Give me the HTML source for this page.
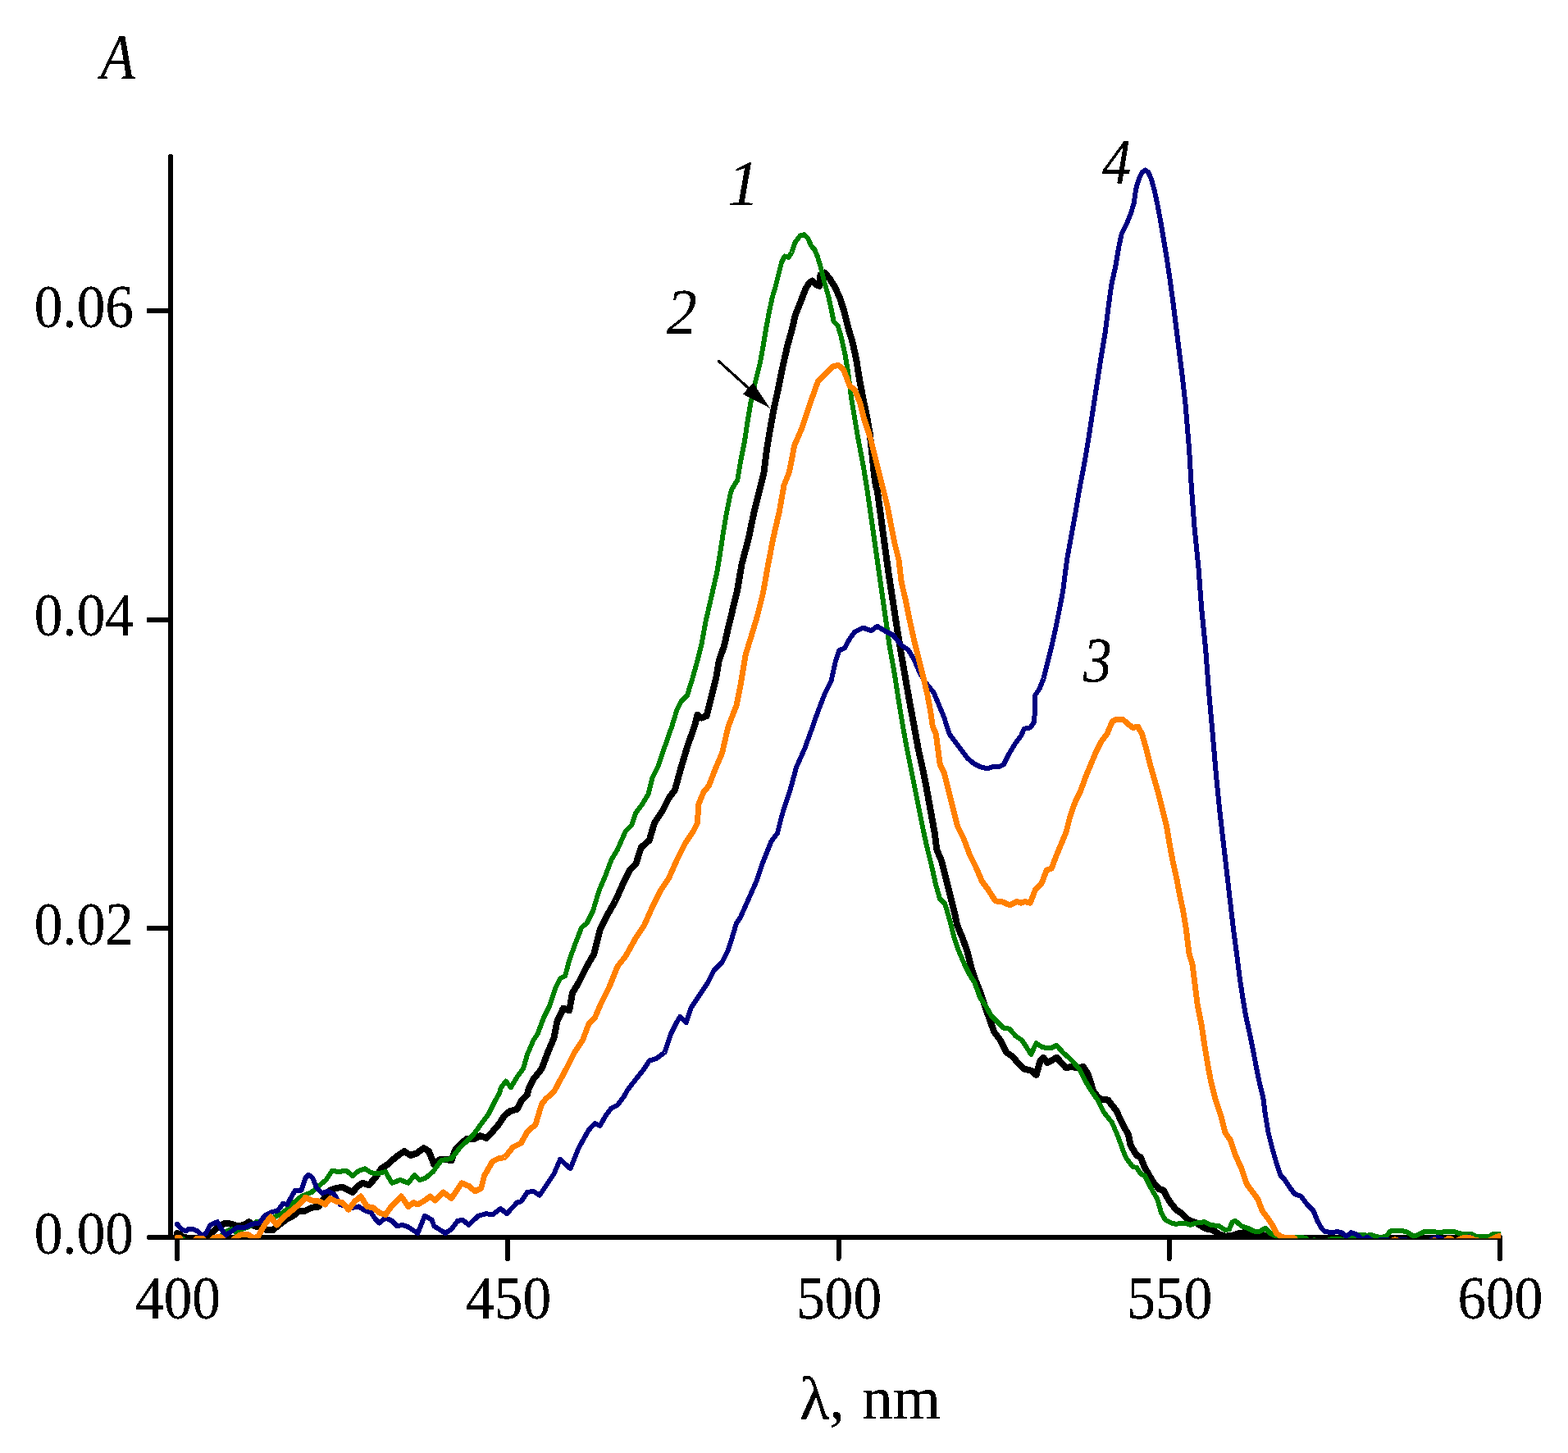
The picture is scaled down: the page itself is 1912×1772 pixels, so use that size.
<!DOCTYPE html>
<html lang="en">
<head>
<meta charset="utf-8">
<title>Absorption spectra</title>
<style>
html,body{margin:0;padding:0;background:#fff;}
body{width:1912px;height:1772px;overflow:hidden;}
svg{display:block;}
text{font-family:"Liberation Serif","DejaVu Serif",serif;font-size:73px;fill:#000;}
.it{font-style:italic;font-size:79px;}
.ax{font-size:75px;}
</style>
</head>
<body>
<svg width="1912" height="1772" viewBox="0 0 1912 1772">
<rect x="0" y="0" width="1912" height="1772" fill="#ffffff"/>
<defs><filter id="bw" x="-10%" y="-10%" width="120%" height="120%" color-interpolation-filters="sRGB"><feComponentTransfer><feFuncA type="discrete" tableValues="0 1 1"/></feComponentTransfer></filter><clipPath id="plot"><rect x="209" y="150" width="1621.2" height="1360.2"/></clipPath></defs>

<g stroke="#000" stroke-width="6" stroke-linecap="round" fill="none" shape-rendering="crispEdges">
<line x1="208" y1="191" x2="208" y2="1509"/>
<line x1="182" y1="1509" x2="1829" y2="1509"/>
<line x1="179" y1="1132.3" x2="208" y2="1132.3" stroke-linecap="butt"/>
<line x1="179" y1="755.6" x2="208" y2="755.6" stroke-linecap="butt"/>
<line x1="179" y1="379.0" x2="208" y2="379.0" stroke-linecap="butt"/>
<line x1="216.0" y1="1509" x2="216.0" y2="1535"/>
<line x1="619.2" y1="1509" x2="619.2" y2="1535"/>
<line x1="1022.5" y1="1509" x2="1022.5" y2="1535"/>
<line x1="1425.8" y1="1509" x2="1425.8" y2="1535"/>
<line x1="1829.0" y1="1509" x2="1829.0" y2="1535"/>
</g>
<g fill="none" stroke-linejoin="round" stroke-linecap="round" clip-path="url(#plot)" shape-rendering="crispEdges">
<path stroke="#000000" stroke-width="8.0" d="M216.00,1504.2 L219.00,1505.0 L223.00,1508.5 L230.00,1510.0 L240.00,1510.0 L250.00,1508.5 L260.00,1502.0 L267.50,1495.2 L275.00,1491.5 L282.50,1492.8 L290.00,1495.2 L297.50,1494.0 L303.75,1490.2 L310.00,1495.2 L317.50,1496.5 L325.00,1500.2 L332.50,1500.2 L340.00,1494.0 L350.00,1486.5 L357.50,1482.8 L365.00,1476.5 L372.50,1476.5 L380.00,1472.8 L388.75,1471.5 L395.00,1461.5 L402.50,1451.5 L410.00,1449.0 L417.50,1447.8 L425.00,1451.5 L430.00,1454.0 L436.25,1446.5 L442.50,1442.8 L450.00,1445.2 L457.50,1436.5 L465.00,1425.2 L472.50,1420.2 L478.00,1415.2 L485.50,1409.0 L493.00,1404.0 L500.50,1409.0 L508.00,1406.5 L516.75,1400.2 L523.00,1404.0 L529.25,1420.2 L536.75,1414.0 L544.25,1414.0 L550.50,1415.2 L555.50,1401.5 L563.00,1394.0 L569.25,1389.0 L578.00,1389.0 L585.50,1385.2 L593.00,1387.8 L600.50,1380.2 L608.00,1371.5 L615.50,1360.2 L621.75,1355.2 L630.50,1352.8 L635.50,1342.8 L643.00,1335.2 L644.25,1329.0 L650.50,1316.0 L660.50,1303.5 L668.00,1283.5 L675.50,1266.0 L679.25,1246.0 L686.75,1229.8 L694.25,1232.2 L698.00,1211.0 L705.50,1198.5 L715.50,1178.5 L724.25,1163.5 L728.00,1148.5 L731.75,1133.5 L740.50,1116.0 L750.50,1098.5 L760.50,1076.0 L768.00,1061.0 L775.50,1053.5 L781.75,1033.5 L791.75,1024.8 L798.00,1003.5 L808.00,988.5 L815.50,973.5 L823.00,963.5 L830.50,936.0 L838.00,911.0 L846.75,886.0 L850.50,871.8 L855.50,875.5 L861.75,873.0 L868.00,848.0 L873.00,828.0 L876.75,805.5 L883.00,788.0 L888.00,765.5 L893.50,743.0 L899.00,720.5 L904.50,688.0 L912.50,658.0 L918.75,628.0 L925.00,603.0 L931.25,578.0 L935.00,548.0 L938.75,525.5 L943.75,498.0 L948.75,475.5 L953.75,450.5 L960.00,422.5 L966.25,400.0 L969.50,385.0 L976.50,367.5 L982.25,352.5 L986.75,345.0 L990.50,342.5 L995.50,347.5 L999.25,348.8 L1000.50,335.0 L1005.50,332.5 L1011.75,340.0 L1018.00,350.0 L1023.75,362.5 L1029.50,380.0 L1034.25,400.0 L1039.00,415.0 L1044.00,437.5 L1048.00,462.5 L1052.25,485.0 L1056.50,505.0 L1060.50,527.5 L1063.00,550.0 L1065.50,575.0 L1068.00,593.0 L1069.75,598.0 L1074.50,633.0 L1079.25,668.0 L1083.75,700.5 L1088.75,733.0 L1093.75,765.5 L1099.00,798.0 L1104.25,828.0 L1109.50,858.0 L1114.75,886.0 L1119.75,913.5 L1124.75,936.0 L1129.75,961.0 L1134.75,988.5 L1139.75,1016.0 L1142.25,1036.0 L1148.50,1051.0 L1153.50,1071.0 L1158.50,1091.0 L1163.50,1111.0 L1167.25,1128.5 L1173.50,1143.5 L1179.75,1161.0 L1184.75,1181.0 L1189.75,1196.0 L1194.75,1208.5 L1199.75,1223.5 L1206.00,1241.0 L1212.25,1258.5 L1219.75,1268.5 L1227.25,1283.5 L1234.75,1288.5 L1241.00,1296.0 L1248.50,1303.5 L1258.50,1306.0 L1263.50,1311.0 L1268.50,1293.5 L1272.25,1289.8 L1277.25,1296.0 L1288.50,1289.8 L1299.75,1302.2 L1306.00,1301.0 L1313.50,1302.2 L1321.00,1301.0 L1326.00,1308.5 L1331.00,1323.5 L1333.50,1331.5 L1341.00,1340.2 L1351.00,1341.5 L1361.00,1354.0 L1368.50,1370.2 L1376.00,1384.0 L1378.50,1396.5 L1386.00,1409.0 L1391.00,1411.5 L1396.00,1424.0 L1406.00,1441.5 L1413.50,1450.2 L1418.50,1451.5 L1426.00,1465.2 L1434.00,1475.2 L1441.50,1480.2 L1449.00,1487.8 L1459.00,1491.5 L1469.00,1497.8 L1479.00,1500.2 L1486.50,1505.2 L1494.00,1507.8 L1504.00,1506.5 L1511.50,1504.0 L1521.50,1502.8 L1534.00,1504.0 L1541.50,1506.5 L1551.50,1508.5 L1571.50,1510.0 L1609.00,1510.0 L1659.00,1510.5 L1709.00,1510.0 L1759.00,1510.5 L1829.00,1510.0"/>
<path stroke="#008000" stroke-width="6.0" d="M216.00,1515.0 L221.25,1512.0 L223.00,1510.8 L225.00,1513.0 L237.50,1514.0 L246.25,1513.0 L255.00,1514.0 L265.00,1512.0 L275.00,1502.0 L282.50,1499.0 L287.50,1502.8 L295.00,1499.0 L302.50,1496.5 L312.50,1490.2 L322.50,1489.0 L332.50,1485.2 L345.00,1479.0 L360.00,1465.2 L367.50,1459.0 L380.00,1454.0 L390.00,1445.2 L397.50,1439.0 L405.00,1427.8 L412.50,1429.0 L422.50,1427.8 L430.00,1434.0 L437.50,1427.8 L445.00,1425.2 L452.50,1430.2 L460.00,1431.5 L470.00,1429.0 L478.00,1442.8 L488.00,1439.0 L498.00,1442.8 L505.50,1432.8 L511.75,1439.0 L519.25,1436.5 L528.00,1429.0 L538.00,1415.2 L550.50,1412.8 L560.50,1400.2 L568.00,1392.8 L578.00,1382.8 L588.00,1369.0 L595.50,1359.0 L603.00,1344.0 L609.25,1332.8 L610.50,1327.2 L616.75,1318.5 L623.00,1326.0 L630.50,1313.5 L638.00,1303.5 L643.00,1286.0 L650.50,1268.5 L655.50,1261.0 L663.00,1241.0 L670.50,1226.0 L678.00,1203.5 L683.00,1193.5 L689.25,1189.8 L694.25,1171.0 L700.50,1153.5 L709.25,1131.0 L715.50,1126.0 L723.00,1111.0 L730.50,1086.0 L738.00,1068.5 L745.50,1048.5 L753.00,1036.0 L763.00,1013.5 L770.50,1006.0 L775.50,991.0 L783.00,981.0 L790.50,968.5 L795.50,948.5 L803.00,933.5 L810.50,911.0 L819.25,886.0 L825.50,865.5 L830.50,855.5 L838.00,848.0 L844.25,828.0 L850.50,805.5 L855.50,785.5 L860.50,758.0 L868.00,725.5 L874.25,698.0 L878.00,675.5 L881.75,650.5 L885.50,628.0 L890.50,603.0 L893.00,595.5 L899.25,585.5 L903.00,563.0 L908.00,538.0 L911.75,513.0 L915.50,490.5 L920.50,468.0 L926.75,443.0 L930.50,422.5 L934.25,400.0 L938.00,380.0 L941.75,362.5 L945.50,350.0 L949.25,335.0 L953.00,320.0 L956.75,312.5 L961.75,313.8 L965.50,307.5 L969.25,296.2 L975.50,287.5 L980.50,286.2 L985.50,291.2 L989.25,300.0 L993.00,303.8 L996.75,312.5 L1000.50,325.0 L1005.50,345.0 L1010.50,362.5 L1014.25,380.0 L1016.75,392.5 L1021.75,397.5 L1025.50,410.0 L1030.50,432.5 L1034.25,455.0 L1038.00,485.0 L1041.75,507.5 L1045.50,530.0 L1049.25,550.0 L1053.00,570.0 L1056.75,593.0 L1059.75,613.0 L1064.75,648.0 L1069.75,683.0 L1074.75,718.0 L1079.75,753.0 L1084.75,788.0 L1091.00,823.0 L1096.00,855.5 L1101.00,886.0 L1106.00,913.5 L1111.00,938.5 L1116.00,963.5 L1121.00,988.5 L1126.00,1013.5 L1131.00,1036.0 L1136.00,1056.0 L1141.00,1078.5 L1146.00,1096.0 L1152.25,1102.2 L1158.50,1123.5 L1163.50,1143.5 L1168.50,1158.5 L1176.00,1176.0 L1182.25,1188.5 L1188.50,1198.5 L1194.75,1216.0 L1202.25,1227.2 L1208.50,1238.5 L1216.00,1246.0 L1223.50,1253.5 L1231.00,1254.8 L1238.50,1263.5 L1246.00,1268.5 L1251.00,1276.0 L1257.25,1286.0 L1263.50,1272.2 L1271.00,1277.2 L1281.00,1278.5 L1288.50,1274.8 L1296.00,1283.5 L1306.00,1292.2 L1316.00,1303.5 L1323.50,1318.5 L1329.75,1329.0 L1338.50,1341.5 L1346.00,1356.5 L1356.00,1369.0 L1363.50,1386.5 L1369.75,1404.0 L1373.50,1412.8 L1381.00,1422.8 L1386.00,1424.0 L1391.00,1431.5 L1396.00,1434.0 L1403.50,1449.0 L1411.00,1461.5 L1416.00,1479.0 L1421.00,1487.8 L1428.50,1491.5 L1434.00,1492.8 L1444.00,1491.5 L1451.50,1494.0 L1459.00,1491.5 L1469.00,1490.2 L1476.50,1494.0 L1486.50,1495.2 L1494.00,1500.2 L1499.00,1499.0 L1502.75,1490.2 L1506.50,1489.0 L1514.00,1495.2 L1521.50,1497.8 L1529.00,1501.5 L1536.50,1501.5 L1542.75,1497.8 L1549.00,1504.0 L1556.50,1507.8 L1563.00,1511.3 L1575.00,1512.3 L1580.00,1509.3 L1586.00,1508.9 L1592.00,1509.8 L1596.00,1513.3 L1600.00,1512.8 L1603.00,1512.3 L1606.00,1513.3 L1615.00,1513.8 L1623.00,1511.3 L1630.00,1510.6 L1637.00,1511.8 L1642.00,1512.3 L1648.00,1510.3 L1652.00,1508.3 L1655.90,1505.8 L1662.50,1505.8 L1666.30,1506.8 L1672.00,1505.8 L1676.70,1507.8 L1681.40,1508.6 L1687.00,1508.6 L1690.80,1506.8 L1695.50,1501.4 L1700.20,1500.5 L1708.60,1500.9 L1715.00,1502.3 L1719.00,1504.5 L1723.60,1507.8 L1728.30,1506.1 L1737.70,1501.8 L1747.10,1502.3 L1756.60,1502.8 L1766.00,1501.8 L1773.50,1502.3 L1780.10,1504.2 L1784.80,1505.1 L1794.30,1505.1 L1799.00,1507.5 L1806.50,1508.0 L1815.90,1508.0 L1820.60,1505.1 L1830.00,1504.8"/>
<path stroke="#000080" stroke-width="6.0" d="M216.00,1493.0 L221.25,1499.0 L226.25,1501.5 L230.00,1499.0 L235.00,1499.0 L241.25,1501.5 L246.25,1506.5 L251.25,1504.0 L256.25,1494.0 L265.00,1490.2 L270.00,1499.0 L275.00,1506.5 L282.50,1501.5 L290.00,1496.5 L300.00,1496.5 L307.50,1492.8 L316.25,1491.5 L322.50,1482.8 L332.50,1477.8 L338.75,1476.5 L345.00,1467.8 L350.00,1469.0 L360.00,1451.5 L367.50,1451.5 L372.50,1436.5 L376.25,1432.8 L381.25,1436.5 L386.25,1449.0 L392.50,1455.2 L400.00,1452.8 L407.50,1456.5 L415.00,1469.0 L422.50,1471.5 L430.00,1472.8 L437.50,1471.5 L445.00,1476.5 L452.50,1479.0 L457.50,1486.5 L462.50,1491.5 L470.00,1485.2 L478.00,1489.0 L484.25,1495.2 L490.50,1494.0 L498.00,1496.5 L509.25,1504.0 L518.00,1482.8 L526.75,1487.8 L529.25,1495.2 L543.00,1504.0 L550.50,1499.0 L558.00,1489.0 L564.25,1487.8 L571.75,1494.0 L583.00,1482.8 L593.00,1480.2 L600.50,1481.5 L610.50,1474.0 L618.00,1480.2 L630.50,1466.5 L635.50,1465.2 L643.00,1454.0 L650.50,1452.8 L658.00,1457.8 L665.50,1446.5 L675.50,1431.5 L683.00,1414.0 L695.50,1425.2 L705.50,1400.2 L718.00,1377.8 L725.50,1370.2 L731.75,1372.8 L738.00,1361.5 L745.50,1351.5 L753.00,1347.8 L760.50,1337.8 L765.50,1329.0 L775.50,1316.0 L785.50,1303.5 L791.75,1293.5 L800.50,1291.0 L810.50,1283.5 L818.00,1261.0 L824.25,1248.5 L829.25,1239.8 L836.75,1247.2 L843.00,1228.5 L853.00,1213.5 L863.00,1198.5 L870.50,1183.5 L880.50,1173.5 L888.00,1158.5 L894.25,1138.5 L898.00,1126.0 L903.00,1118.5 L913.00,1096.0 L923.00,1073.5 L930.50,1051.0 L940.50,1026.0 L948.00,1016.0 L953.00,996.0 L956.00,986.0 L963.50,963.5 L971.00,936.0 L981.00,913.5 L991.00,886.0 L997.25,868.0 L1006.00,845.5 L1013.50,830.5 L1018.50,808.0 L1023.50,793.0 L1029.75,790.5 L1036.00,779.2 L1042.25,770.5 L1052.25,765.5 L1062.25,769.2 L1069.75,763.8 L1078.50,769.2 L1088.50,774.2 L1096.00,783.0 L1100.00,787.5 L1107.50,792.5 L1115.00,805.0 L1121.25,820.0 L1128.75,832.5 L1138.75,845.0 L1145.00,860.0 L1151.25,875.0 L1157.50,895.0 L1165.00,905.0 L1172.50,915.0 L1180.00,925.0 L1187.50,931.2 L1195.00,935.0 L1203.75,937.5 L1211.25,935.0 L1217.50,935.5 L1223.75,932.5 L1230.00,920.0 L1237.50,907.5 L1245.00,897.5 L1248.75,888.8 L1256.25,887.5 L1261.25,880.0 L1262.50,847.5 L1267.50,840.0 L1272.50,827.5 L1277.50,807.5 L1282.50,787.5 L1287.50,765.0 L1292.50,740.0 L1296.25,720.0 L1301.00,683.0 L1306.00,655.5 L1311.00,628.0 L1316.00,598.0 L1322.75,562.5 L1327.75,532.5 L1332.75,500.0 L1337.75,467.5 L1342.75,435.0 L1347.75,405.0 L1351.50,375.0 L1355.25,347.5 L1360.25,325.0 L1364.00,302.5 L1367.75,285.0 L1374.00,272.5 L1379.00,260.0 L1382.75,247.5 L1385.25,230.0 L1389.00,217.5 L1392.75,210.0 L1396.50,207.5 L1400.25,210.0 L1404.00,218.8 L1407.75,232.5 L1411.50,250.0 L1415.25,270.0 L1419.00,292.5 L1422.75,315.0 L1426.50,340.0 L1430.25,367.5 L1434.00,397.5 L1437.75,427.5 L1441.50,457.5 L1445.25,490.0 L1447.75,520.0 L1450.25,550.0 L1452.75,593.0 L1456.50,643.0 L1461.50,693.0 L1465.25,743.0 L1470.25,793.0 L1474.00,843.0 L1478.50,893.0 L1482.75,943.0 L1487.75,993.0 L1492.75,1036.0 L1496.50,1068.5 L1500.25,1101.0 L1504.00,1133.5 L1507.75,1161.0 L1511.50,1191.0 L1515.25,1216.0 L1519.00,1238.5 L1524.00,1261.0 L1528.50,1283.5 L1532.75,1306.0 L1536.50,1323.5 L1540.25,1338.5 L1542.75,1358.5 L1546.50,1381.0 L1551.50,1401.0 L1556.50,1418.5 L1561.50,1433.5 L1566.50,1438.5 L1571.50,1446.5 L1579.00,1456.5 L1586.50,1459.0 L1594.00,1469.0 L1601.50,1476.5 L1606.50,1489.0 L1611.50,1497.8 L1615.00,1501.7 L1620.00,1502.6 L1625.00,1503.2 L1630.50,1501.9 L1636.00,1503.3 L1641.80,1507.8 L1647.40,1503.2 L1653.00,1505.0 L1658.00,1508.2 L1661.00,1512.2 L1664.00,1510.2 L1667.00,1508.9 L1671.00,1511.2 L1675.00,1515.2 L1682.00,1512.2 L1688.00,1511.7 L1693.00,1512.2 L1697.00,1515.2 L1704.00,1515.2 L1706.00,1512.2 L1712.00,1511.7 L1715.00,1512.2 L1718.00,1515.2 L1740.00,1516.2 L1746.00,1511.2 L1752.00,1509.2 L1756.00,1509.7 L1760.00,1512.2 L1765.00,1516.2 L1785.00,1514.2 L1788.00,1509.2 L1791.00,1508.2 L1794.00,1509.2 L1797.00,1514.2 L1830.00,1516.2"/>
<path stroke="#ff8000" stroke-width="7.0" d="M216.00,1509.7 L219.50,1509.7 L222.00,1514.5 L233.00,1516.0 L236.50,1513.5 L240.00,1510.0 L247.00,1510.0 L250.50,1513.5 L254.00,1515.5 L257.50,1512.5 L261.00,1509.6 L265.00,1508.6 L269.00,1508.8 L272.00,1511.5 L274.00,1515.0 L280.00,1516.0 L284.00,1512.5 L288.00,1509.0 L293.00,1506.0 L298.00,1505.0 L303.00,1505.7 L307.00,1508.5 L310.00,1509.8 L315.00,1507.3 L322.50,1494.0 L330.00,1484.0 L337.50,1494.0 L345.00,1485.2 L352.50,1479.0 L360.00,1472.8 L367.50,1466.5 L372.50,1460.2 L380.00,1464.0 L390.00,1465.2 L396.25,1469.0 L402.50,1461.5 L410.00,1465.2 L417.50,1466.5 L425.00,1475.2 L432.50,1465.2 L440.00,1459.0 L447.50,1471.5 L455.00,1472.8 L462.50,1479.0 L470.00,1481.5 L478.00,1470.2 L489.25,1459.0 L498.00,1471.5 L504.25,1466.5 L509.25,1469.0 L518.00,1464.0 L524.25,1459.0 L530.50,1464.0 L540.50,1454.0 L550.50,1461.5 L563.00,1442.8 L571.75,1446.5 L579.25,1452.8 L586.75,1449.0 L590.50,1434.0 L600.50,1416.5 L608.00,1412.8 L615.50,1411.5 L625.50,1399.0 L635.50,1394.0 L643.00,1380.2 L653.00,1371.5 L660.50,1346.5 L665.50,1340.2 L675.50,1331.5 L676.75,1329.0 L690.50,1303.5 L700.50,1283.5 L710.50,1268.5 L718.00,1248.5 L725.50,1241.0 L733.00,1223.5 L743.00,1203.5 L753.00,1178.5 L763.00,1166.0 L775.50,1143.5 L785.50,1128.5 L795.50,1106.0 L805.50,1086.0 L815.50,1071.0 L825.50,1048.5 L835.50,1028.5 L845.50,1013.5 L850.50,1003.5 L851.75,981.0 L858.00,966.0 L864.25,958.5 L873.00,936.0 L880.50,918.5 L888.00,886.0 L898.00,860.5 L903.00,835.5 L909.25,798.0 L915.50,778.0 L923.00,753.0 L930.50,723.0 L936.75,688.0 L943.00,655.5 L950.50,623.0 L956.00,591.8 L962.50,575.5 L968.75,543.0 L977.50,523.0 L984.25,503.0 L991.00,483.0 L997.25,465.5 L1006.00,456.8 L1016.00,446.8 L1022.25,445.5 L1028.50,450.5 L1036.00,470.5 L1042.25,475.5 L1048.50,490.5 L1053.50,510.5 L1061.00,533.0 L1068.50,563.0 L1076.00,593.0 L1082.25,618.0 L1086.00,638.0 L1091.00,663.0 L1096.00,683.0 L1099.25,710.5 L1104.00,730.5 L1109.00,755.5 L1114.00,778.0 L1119.50,800.5 L1125.25,823.0 L1131.00,848.0 L1134.75,868.0 L1137.25,886.0 L1141.25,895.0 L1146.25,932.5 L1151.25,942.5 L1156.25,962.5 L1162.50,987.5 L1167.50,1007.5 L1175.00,1022.5 L1182.50,1042.5 L1190.00,1057.5 L1197.50,1075.0 L1205.00,1085.0 L1213.75,1098.8 L1222.50,1100.0 L1231.25,1103.8 L1240.00,1099.5 L1245.00,1101.2 L1250.00,1099.5 L1256.25,1101.2 L1262.50,1085.0 L1270.00,1077.5 L1276.25,1061.2 L1282.50,1058.8 L1287.50,1045.0 L1293.75,1030.0 L1300.00,1015.0 L1305.00,995.0 L1311.25,977.5 L1317.50,965.0 L1323.75,947.5 L1330.00,932.5 L1336.25,917.5 L1342.50,905.0 L1350.00,895.0 L1356.25,880.0 L1361.25,877.0 L1368.75,877.0 L1375.00,882.5 L1381.25,887.5 L1387.50,886.2 L1392.50,895.0 L1397.50,912.5 L1402.50,932.5 L1407.50,950.0 L1412.50,967.5 L1417.50,987.5 L1422.50,1007.5 L1426.25,1030.0 L1430.00,1050.0 L1435.00,1072.5 L1438.75,1092.5 L1442.50,1110.0 L1446.25,1132.5 L1450.00,1163.0 L1454.00,1176.0 L1456.50,1196.0 L1460.25,1226.0 L1465.25,1251.0 L1469.00,1276.0 L1472.75,1298.5 L1476.50,1318.5 L1481.50,1338.5 L1484.00,1346.5 L1489.00,1361.5 L1494.00,1381.5 L1500.25,1390.2 L1506.50,1409.0 L1514.00,1425.2 L1520.25,1444.0 L1527.75,1454.0 L1534.00,1462.8 L1539.00,1476.5 L1546.50,1486.5 L1551.50,1494.0 L1556.50,1504.0 L1561.50,1507.8 L1566.00,1509.3 L1572.00,1509.5 L1578.00,1509.7 L1582.00,1514.7 L1600.00,1516.7 L1690.00,1516.7 L1697.00,1513.2 L1701.00,1511.9 L1705.00,1513.2 L1712.00,1516.7 L1740.00,1516.7 L1746.00,1513.2 L1750.00,1512.7 L1755.00,1516.7 L1760.00,1514.7 L1765.50,1510.7 L1768.00,1510.4 L1772.00,1512.7 L1775.00,1514.7 L1780.00,1511.2 L1785.00,1509.7 L1790.00,1509.5 L1795.00,1510.2 L1798.00,1512.7 L1803.00,1513.0 L1807.00,1513.7 L1815.00,1513.7 L1820.00,1510.7 L1825.00,1508.2 L1830.00,1507.2"/>
</g>
<g shape-rendering="crispEdges"><line x1="876.6" y1="440.6" x2="914" y2="474.5" stroke="#000" stroke-width="3.2" stroke-linecap="round"/>
<polygon points="939,497.8 905.8,480.6 918.4,466.8" fill="#000"/></g>
<g filter="url(#bw)">
<text transform="translate(163.0,1528.8) scale(0.95,1)" text-anchor="end">0.00</text>
<text transform="translate(163.0,1152.1) scale(0.95,1)" text-anchor="end">0.02</text>
<text transform="translate(163.0,775.4) scale(0.95,1)" text-anchor="end">0.04</text>
<text transform="translate(163.0,398.8) scale(0.95,1)" text-anchor="end">0.06</text>
<text transform="translate(217.0,1608.3) scale(0.95,1)" text-anchor="middle">400</text>
<text transform="translate(620.1,1608.3) scale(0.95,1)" text-anchor="middle">450</text>
<text transform="translate(1023.2,1608.3) scale(0.95,1)" text-anchor="middle">500</text>
<text transform="translate(1426.3,1608.3) scale(0.95,1)" text-anchor="middle">550</text>
<text transform="translate(1829.4,1608.3) scale(0.95,1)" text-anchor="middle">600</text>
<text class="ax" y="1730.3"><tspan x="975.0">λ,</tspan><tspan x="1032.5"> nm</tspan></text>
<text transform="translate(122.6,94.9) scale(0.873,1)" text-anchor="start" class="it">A</text>
<text transform="translate(887.6,249.0) scale(0.968,1)" text-anchor="start" class="it">1</text>
<text transform="translate(813.0,406.2) scale(0.93,1)" text-anchor="start" class="it">2</text>
<text transform="translate(1321.0,830.9) scale(0.878,1)" text-anchor="start" class="it">3</text>
<text transform="translate(1344.1,223.2) scale(0.891,1)" text-anchor="start" class="it">4</text>
</g>
</svg>
</body>
</html>
